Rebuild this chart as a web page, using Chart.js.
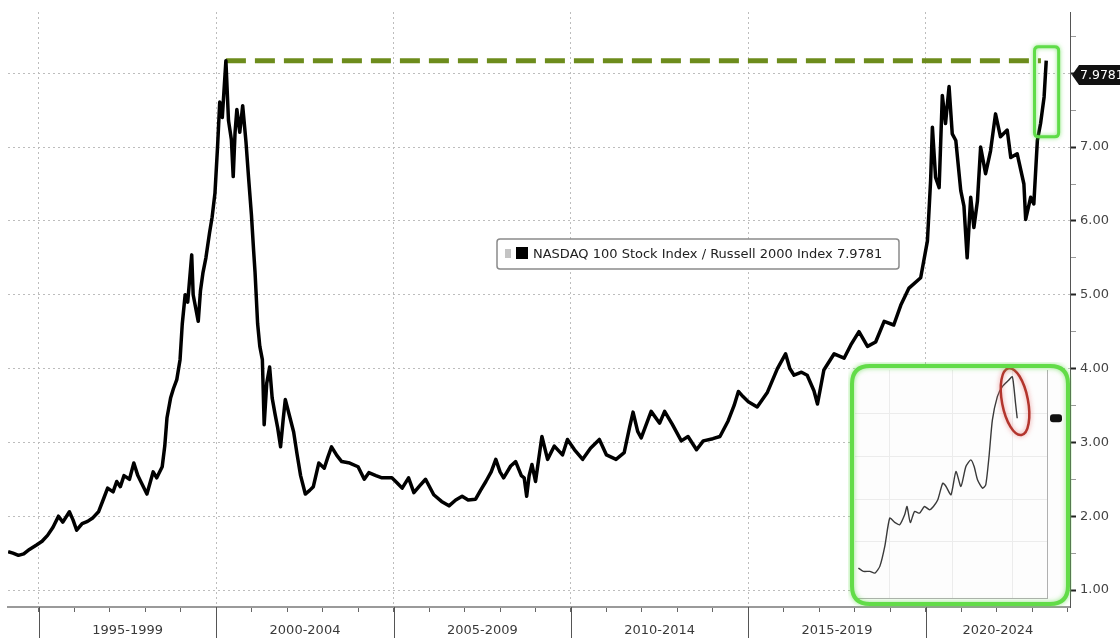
<!DOCTYPE html>
<html><head><meta charset="utf-8">
<script src="https://cdn.jsdelivr.net/npm/chart.js@4.4.1/dist/chart.umd.min.js"></script>
<style>
html,body{margin:0;padding:0;background:#fff;}
#wrap{position:relative;width:1120px;height:638px;overflow:hidden;background:#fff;}
#main{position:absolute;left:0;top:0;}
#inset{position:absolute;left:848px;top:362px;}
</style></head><body>
<div id="wrap"><canvas id="main" width="1120" height="638"></canvas><canvas id="inset" width="224" height="246"></canvas></div>
<script>
// ---------- data ----------
const seriesName = 'NASDAQ 100 Stock Index / Russell 2000 Index';
const lastValue = 7.9781;
const dates = [1994.13,1994.266,1994.42,1994.57,1994.73,1994.93,1995.087,1995.241,1995.395,1995.549,1995.672,1995.857,1995.959,1996.062,1996.216,1996.37,1996.524,1996.678,1996.832,1996.935,
1997.089,1997.191,1997.294,1997.397,1997.551,1997.674,1997.787,1997.89,1998.043,1998.218,1998.32,1998.474,1998.546,1998.608,1998.71,1998.792,1998.885,1998.977,1999.039,1999.121,
1999.193,1999.306,1999.347,1999.49,1999.552,1999.624,1999.706,1999.809,1999.881,1999.962,2000.034,2000.096,2000.168,2000.27,2000.343,2000.425,2000.476,2000.528,2000.579,2000.661,
2000.743,2000.836,2000.907,2000.99,2001.051,2001.092,2001.164,2001.226,2001.298,2001.349,2001.421,2001.503,2001.575,2001.657,2001.729,2001.811,2001.883,2001.944,2002.068,2002.18,
2002.273,2002.376,2002.509,2002.632,2002.735,2002.889,2003.043,2003.145,2003.248,2003.402,2003.535,2003.761,2003.997,2004.171,2004.3,2004.5,2004.67,2004.95,2005.1,
2005.24,2005.42,2005.57,2005.75,2005.9,2006.13,2006.35,2006.56,2006.75,2006.93,2007.1,2007.31,2007.45,2007.6,2007.75,2007.88,2008.0,2008.1,2008.3,2008.44,
2008.6,2008.68,2008.75,2008.82,2008.9,2009.0,2009.18,2009.34,2009.53,2009.76,2009.9,2010.1,2010.33,2010.55,2010.8,2011.0,2011.27,2011.5,2011.65,2011.75,
2011.88,2011.98,2012.26,2012.5,2012.64,2012.85,2013.11,2013.3,2013.54,2013.73,2014.0,2014.2,2014.43,2014.6,2014.72,2014.85,2015.0,2015.25,2015.54,2015.82,
2016.05,2016.17,2016.29,2016.5,2016.66,2016.85,2016.95,2017.13,2017.42,2017.7,2017.89,2018.12,2018.36,2018.59,2018.83,2019.1,2019.3,2019.53,2019.86,2020.05,
2020.14,2020.19,2020.28,2020.38,2020.47,2020.56,2020.66,2020.75,2020.85,2020.99,2021.08,2021.17,2021.27,2021.36,2021.46,2021.55,2021.69,2021.83,2021.97,2022.11,
2022.3,2022.4,2022.58,2022.77,2022.82,2022.96,2023.05,2023.15,2023.24,2023.34,2023.4];
const ratio = [1.52,1.50,1.47,1.49,1.55,1.61,1.66,1.74,1.85,2.00,1.92,2.06,1.95,1.81,1.90,1.93,1.98,2.06,2.25,2.38,
2.33,2.47,2.40,2.55,2.50,2.72,2.55,2.45,2.30,2.60,2.52,2.67,2.95,3.33,3.60,3.73,3.85,4.12,4.60,5.00,
4.90,5.54,5.00,4.64,5.05,5.30,5.50,5.84,6.05,6.38,7.00,7.61,7.40,8.17,7.36,7.10,6.60,7.20,7.51,7.20,
7.56,7.07,6.60,6.08,5.60,5.30,4.61,4.30,4.12,3.24,3.80,4.02,3.60,3.38,3.20,2.94,3.30,3.58,3.35,3.14,
2.85,2.55,2.30,2.35,2.40,2.72,2.65,2.80,2.94,2.82,2.74,2.72,2.67,2.50,2.59,2.55,2.52,2.52,2.45,
2.38,2.52,2.32,2.42,2.50,2.29,2.20,2.14,2.22,2.27,2.22,2.23,2.35,2.47,2.60,2.77,2.60,2.52,2.68,2.74,
2.55,2.52,2.27,2.55,2.70,2.47,3.08,2.77,2.95,2.83,3.04,2.90,2.77,2.92,3.04,2.83,2.77,2.86,3.20,3.41,
3.15,3.06,3.42,3.26,3.42,3.25,3.02,3.08,2.90,3.02,3.05,3.08,3.29,3.50,3.69,3.62,3.55,3.48,3.68,4.00,
4.20,4.00,3.91,3.95,3.91,3.70,3.52,3.98,4.20,4.14,4.32,4.50,4.30,4.36,4.64,4.59,4.86,5.09,5.23,5.73,
6.55,7.27,6.59,6.45,7.70,7.32,7.82,7.18,7.09,6.41,6.20,5.50,6.32,5.91,6.27,7.00,6.64,6.95,7.45,7.14,
7.23,6.86,6.91,6.50,6.02,6.32,6.23,7.09,7.32,7.68,8.17];
const priorHigh = 8.17;
const priorHighFrom = 2000.27;
const priorHighTo = 2023.25;
const highlightDates = [2023.07, 2023.75];
const highlightValues = [7.14, 8.36];
const yearTicks = [1995,1996,1997,1998,1999,2000,2001,2002,2003,2004,2005,2006,2007,2008,2009,2010,2011,2012,2013,2014,2015,2016,2017,2018,2019,2020,2021,2022,2023,2024];
const periodStarts = [1995,2000,2005,2010,2015,2020];
const periodLabels = ['1995-1999','2000-2004','2005-2009','2010-2014','2015-2019','2020-2024'];
const yTickValues = [1,1.5,2,2.5,3,3.5,4,4.5,5,5.5,6,6.5,7,7.5,8,8.5];
// inset (pasted small chart), arbitrary units
const insetT = [0.17,0.67,1.33,1.83,2.33,2.83,3.33,3.83,4.33,4.83,5.07,5.4,5.83,6.33,6.83,7.33,7.73,8.17,8.67,9.0,9.5,10.0,10.5,11.0,11.5,11.83,12.17,12.67,13.0,13.33,13.67,14.17,14.67,15.33,15.67,15.83,16.0,16.17];
const insetV = [0.75,0.65,0.65,0.60,0.80,1.40,2.25,2.12,2.05,2.35,2.60,2.12,2.45,2.40,2.60,2.50,2.60,2.80,3.30,3.20,2.95,3.65,3.20,3.80,4.00,3.80,3.40,3.15,3.25,4.10,5.20,5.90,6.20,6.40,6.50,6.20,5.70,5.25];
const insetXTicks = [3.33,9.67,15.67];
const insetYTicks = [1.55,2.8,4.1,5.4];
const insetCircle = [15.95, 5.75];

// ---------- chart ----------
const FONT = "'DejaVu Sans', sans-serif";
Chart.defaults.font.family = FONT;
Chart.defaults.animation = false;

function rr(ctx,x,y,w,h,r){ctx.beginPath();ctx.moveTo(x+r,y);ctx.lineTo(x+w-r,y);ctx.quadraticCurveTo(x+w,y,x+w,y+r);ctx.lineTo(x+w,y+h-r);ctx.quadraticCurveTo(x+w,y+h,x+w-r,y+h);ctx.lineTo(x+r,y+h);ctx.quadraticCurveTo(x,y+h,x,y+h-r);ctx.lineTo(x,y+r);ctx.quadraticCurveTo(x,y,x+r,y);ctx.closePath();}

const mainDecor = {
  id:'mainDecor',
  afterDatasetsDraw(chart){
    const {ctx, scales:{x,y}} = chart;
    const x1 = x.getPixelForValue(highlightDates[0]), x2 = x.getPixelForValue(highlightDates[1]);
    const y1 = y.getPixelForValue(highlightValues[1]), y2 = y.getPixelForValue(highlightValues[0]);
    ctx.save();
    ctx.shadowColor='rgba(90,220,70,0.7)'; ctx.shadowBlur=4;
    ctx.strokeStyle='#5fdc48'; ctx.lineWidth=3;
    rr(ctx,x1,y1,x2-x1,y2-y1,4); ctx.stroke();
    ctx.restore();
  },
  afterDraw(chart){
    const {ctx, scales:{x,y}, chartArea:ca} = chart;
    ctx.save();
    // long period separators under the axis
    ctx.strokeStyle='#555'; ctx.lineWidth=1;
    periodStarts.forEach(s=>{const px=Math.round(x.getPixelForValue(s))+0.5;ctx.beginPath();ctx.moveTo(px,ca.bottom);ctx.lineTo(px,chart.height);ctx.stroke();});
    // period labels
    ctx.fillStyle='#3a3a3a'; ctx.font='13px '+FONT; ctx.textAlign='center'; ctx.textBaseline='middle';
    periodLabels.forEach((lab,i)=>{const a=x.getPixelForValue(periodStarts[i]);const b=x.getPixelForValue(Math.min(periodStarts[i]+5,x.max));ctx.fillText(lab,(a+b)/2,631);});
    // legend box
    const lx=497, ly=239, lw=402, lh=30;
    ctx.fillStyle='#fff'; rr(ctx,lx,ly,lw,lh,3); ctx.fill();
    ctx.strokeStyle='#8a8a8a'; ctx.lineWidth=1.5; ctx.stroke();
    ctx.fillStyle='#c4c4c4'; ctx.fillRect(lx+8,ly+10,6,9);
    ctx.fillStyle='#000'; ctx.fillRect(lx+19,ly+8,12,12);
    ctx.fillStyle='#222'; ctx.textAlign='left'; ctx.font='13px '+FONT;
    ctx.fillText(seriesName+' '+lastValue.toFixed(4), lx+36, ly+lh/2+0.5);
    // last value tag
    const cy=y.getPixelForValue(lastValue);
    ctx.fillStyle='#111';
    ctx.beginPath();ctx.moveTo(ca.right+2,cy);ctx.lineTo(ca.right+9,cy-10);ctx.lineTo(chart.width+5,cy-10);ctx.lineTo(chart.width+5,cy+10);ctx.lineTo(ca.right+9,cy+10);ctx.closePath();ctx.fill();
    ctx.fillStyle='#fff'; ctx.textAlign='left'; ctx.font='12.5px '+FONT; ctx.fillText(lastValue.toFixed(4), ca.right+10, cy+0.5);
    ctx.restore();
  }
};

new Chart(document.getElementById('main'), {
  type:'line',
  data:{datasets:[
    {data:dates.map((d,i)=>({x:d,y:ratio[i]})), borderColor:'#000', borderWidth:3.5, pointRadius:0, tension:0, borderJoinStyle:'round'},
    {data:[{x:priorHighFrom,y:priorHigh},{x:priorHighTo,y:priorHigh}], borderColor:'#6d8c1c', borderWidth:5, borderDash:[20,9], pointRadius:0}
  ]},
  options:{
    responsive:false, animation:false, events:[],
    layout:{padding:{left:8,top:12,right:0,bottom:0}},
    plugins:{legend:{display:false}, tooltip:{enabled:false}},
    scales:{
      x:{type:'linear', min:1994.126, max:2024.07,
        afterBuildTicks:a=>{a.ticks=yearTicks.map(v=>({value:v}));},
        afterFit:a=>{a.height=31;},
        ticks:{display:false},
        grid:{color:c=>(c.tick && c.tick.value%5===0)?'#bdbdbd':'rgba(0,0,0,0)', lineWidth:1, tickLength:5, tickColor:'#666', drawTicks:true},
        border:{color:'#9a9a9a', width:2, dash:[2,3]}
      },
      y:{type:'linear', position:'right', min:0.77, max:8.83,
        afterBuildTicks:a=>{a.ticks=yTickValues.map(v=>({value:v}));},
        afterFit:a=>{a.width=50;},
        ticks:{padding:4, color:'#444', font:{size:13}, callback:v=>Number.isInteger(v)?v.toFixed(2):''},
        grid:{color:c=>(c.tick && Number.isInteger(c.tick.value))?'#bdbdbd':'rgba(0,0,0,0)', lineWidth:1, tickLength:6,
          tickColor:c=>(c.tick && Number.isInteger(c.tick.value))?'#222':'#999', tickWidth:c=>(c.tick && Number.isInteger(c.tick.value))?2:1},
        border:{color:'#555', width:1, dash:[2,3]}
      }
    }
  },
  plugins:[mainDecor]
});

// ---------- inset ----------
const insetDecor = {
  id:'insetDecor',
  beforeDraw(chart){
    const ctx=chart.ctx; ctx.save(); ctx.fillStyle='#fdfdfd'; rr(ctx,4,4,216,238,18); ctx.fill(); ctx.restore();
  },
  afterDraw(chart){
    const {ctx, scales:{x,y}, chartArea:ca} = chart;
    ctx.save();
    const ly=y.getPixelForValue(insetV[insetV.length-1]);
    ctx.fillStyle='#111'; rr(ctx,ca.right+3,ly-4,12,8,3); ctx.fill();
    const cx=x.getPixelForValue(insetCircle[0]), cy=y.getPixelForValue(insetCircle[1]);
    ctx.shadowColor='rgba(230,120,120,0.8)'; ctx.shadowBlur=5;
    ctx.strokeStyle='#b3352d'; ctx.lineWidth=2.5;
    ctx.beginPath(); ctx.ellipse(cx,cy,13,34,-0.19,0,Math.PI*2); ctx.stroke();
    ctx.shadowColor='rgba(95,220,72,0.7)'; ctx.shadowBlur=5;
    ctx.strokeStyle='#62dc48'; ctx.lineWidth=4;
    rr(ctx,4,4,216,238,18); ctx.stroke();
    ctx.restore();
  }
};

new Chart(document.getElementById('inset'), {
  type:'line',
  data:{datasets:[{data:insetT.map((t,i)=>({x:t,y:insetV[i]})), borderColor:'#3a3a3a', borderWidth:1.4, pointRadius:0, tension:0.2}]},
  options:{
    responsive:false, animation:false, events:[],
    layout:{padding:{left:7,top:8,right:25,bottom:10}},
    plugins:{legend:{display:false}, tooltip:{enabled:false}},
    scales:{
      x:{type:'linear', min:-0.17, max:19.17, afterBuildTicks:a=>{a.ticks=insetXTicks.map(v=>({value:v}));},
        ticks:{display:false}, grid:{drawTicks:false, color:'#ececec'}, border:{color:'#b0b0b0', width:1}},
      y:{type:'linear', position:'right', min:-0.15, max:6.7, afterBuildTicks:a=>{a.ticks=insetYTicks.map(v=>({value:v}));},
        ticks:{display:false}, grid:{drawTicks:false, color:'#ececec'}, border:{color:'#b0b0b0', width:1}}
    }
  },
  plugins:[insetDecor]
});
</script>
</body></html>
